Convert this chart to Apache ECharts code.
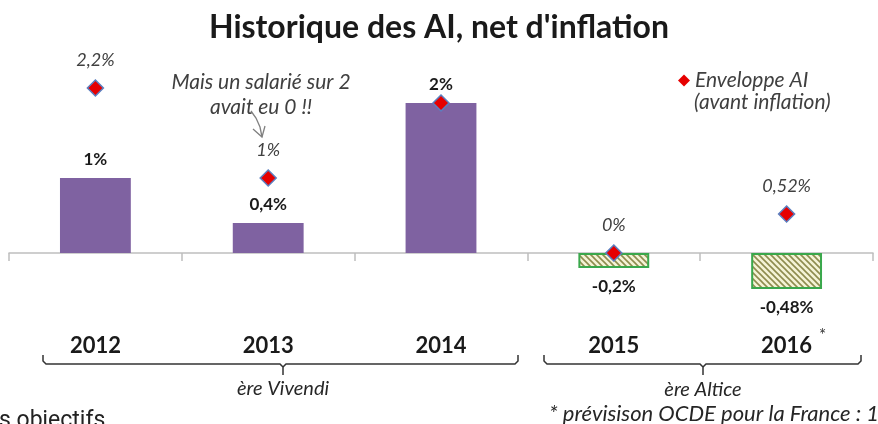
<!DOCTYPE html>
<html>
<head>
<meta charset="utf-8">
<script src="https://cdn.jsdelivr.net/npm/echarts@6/dist/echarts.min.js"></script>
<style>
  html, body { margin: 0; padding: 0; background: #fff; }
  #main { width: 878px; height: 424px; }
</style>
</head>
<body>
<div id="main"></div>
<script>
// données
const years = ['2012', '2013', '2014', '2015', '2016'];
const aiNet = [1, 0.4, 2, -0.2, -0.48];           // AI net d'inflation
const enveloppe = [2.2, 1, 2, 0, 0.52];           // Enveloppe AI (avant inflation)
const hideEnvLabel = [false, false, true, false, false];

const fontFam = 'Lato, "Open Sans", sans-serif';
const fmt = v => String(v).replace('.', ',') + '%';

// motif hachuré pour les années négatives
const makeHatch = () => {
    const c = document.createElement('canvas');
    c.width = 6;
    c.height = 6;
    const ctx = c.getContext('2d');
    ctx.fillStyle = '#f4f3d6';
    ctx.fillRect(0, 0, 6, 6);
    ctx.strokeStyle = '#8e8c4e';
    ctx.lineWidth = 1.6;
    ctx.beginPath();
    ctx.moveTo(-1, -1); ctx.lineTo(7, 7);
    ctx.moveTo(-1, 5); ctx.lineTo(1, 7);
    ctx.moveTo(5, -1); ctx.lineTo(7, 1);
    ctx.stroke();
    return c;
};
const hatch = makeHatch();

const chart = echarts.init(document.getElementById('main'));

const barData = aiNet.map(v => {
    if (v >= 0) {
        return { value: v, label: { position: 'top' } };
    }
    return {
        value: v,
        itemStyle: {
            color: { image: hatch, repeat: 'repeat' },
            borderColor: '#3aa84c',
            borderWidth: 2
        },
        label: { position: 'bottom' }
    };
});

const envData = enveloppe.map((v, i) => ({
    value: v,
    label: { show: !hideEnvLabel[i] }
}));

const brace = (x1, x2, xm) => [
    {
        type: 'polyline',
        shape: { points: [[x1, 355], [x1, 361], [x1 + 3, 364], [xm - 3, 364], [xm, 367], [xm, 375]] },
        style: { stroke: '#333', lineWidth: 1.5, fill: null }
    },
    {
        type: 'polyline',
        shape: { points: [[xm, 367], [xm + 3, 364], [x2 - 3, 364], [x2, 361], [x2, 355]] },
        style: { stroke: '#333', lineWidth: 1.5, fill: null }
    }
];

const noteText = (text, x, y, size, align) => ({
    type: 'text',
    x: x,
    y: y,
    style: {
        text: text,
        align: align,
        verticalAlign: 'middle',
        fontFamily: fontFam,
        fontStyle: 'italic',
        fontSize: size,
        fill: '#262626'
    }
});

const options = {
    animation: false,
    title: {
        text: 'Historique des AI, net d\'inflation',
        left: 'center',
        top: 7,
        textStyle: {
            fontFamily: fontFam,
            fontWeight: 'bold',
            fontSize: 32,
            color: '#1a1a1a'
        }
    },
    legend: {
        data: ['Enveloppe AI'],
        left: 673,
        top: 65,
        icon: 'diamond',
        itemWidth: 12,
        itemHeight: 12,
        itemStyle: { borderWidth: 0, color: '#e60000' },
        textStyle: {
            fontFamily: fontFam,
            fontStyle: 'italic',
            fontSize: 21,
            color: '#404040'
        }
    },
    grid: {
        left: 9,
        right: 5,
        top: 73,
        bottom: 111
    },
    xAxis: {
        type: 'category',
        data: years,
        axisLine: { onZero: true, lineStyle: { color: '#bfbfbf', width: 1.5 } },
        axisTick: { show: true, length: 8, lineStyle: { color: '#bfbfbf', width: 1.5 } },
        axisLabel: {
            margin: 22,
            fontFamily: fontFam,
            fontWeight: 'bold',
            fontSize: 22,
            color: '#1a1a1a'
        }
    },
    yAxis: {
        type: 'value',
        min: -0.8,
        max: 2.4,
        show: false,
        splitLine: { show: false }
    },
    series: [
        {
            name: 'AI net',
            type: 'bar',
            barWidth: '41%',
            data: barData,
            itemStyle: { color: '#7f62a1' },
            label: {
                show: true,
                distance: 10,
                formatter: p => fmt(p.value),
                fontFamily: fontFam,
                fontWeight: 'bold',
                fontSize: 17,
                color: '#1a1a1a'
            },
            z: 2
        },
        {
            name: 'Enveloppe AI',
            type: 'scatter',
            symbol: 'diamond',
            symbolSize: 16,
            data: envData,
            itemStyle: {
                color: '#e60000',
                borderColor: '#5b7fc0',
                borderWidth: 1.5,
                opacity: 1
            },
            label: {
                show: true,
                position: 'top',
                distance: 10,
                formatter: p => fmt(p.value),
                fontFamily: fontFam,
                fontStyle: 'italic',
                fontSize: 18,
                color: '#404040'
            },
            z: 5
        }
    ],
    graphic: [
        {
            type: 'text',
            x: 694,
            y: 102,
            style: {
                text: '(avant inflation)',
                verticalAlign: 'middle',
                fontFamily: fontFam,
                fontStyle: 'italic',
                fontSize: 21,
                fill: '#404040'
            }
        },
        {
            type: 'text',
            x: 261,
            y: 95,
            style: {
                text: 'Mais un salarié sur 2\navait eu 0 !!',
                align: 'center',
                verticalAlign: 'middle',
                lineHeight: 25,
                fontFamily: fontFam,
                fontStyle: 'italic',
                fontSize: 21,
                fill: '#404040'
            }
        },
        {
            type: 'polyline',
            shape: { points: [[251, 111], [256, 118], [260, 127], [262, 137]] },
            style: { stroke: '#808080', lineWidth: 1.3, fill: null }
        },
        {
            type: 'polyline',
            shape: { points: [[253, 129], [262, 137], [265, 126]] },
            style: { stroke: '#808080', lineWidth: 1.3, fill: null }
        },
        {
            type: 'text',
            x: 819,
            y: 327,
            style: {
                text: '*',
                fontFamily: fontFam,
                fontSize: 17,
                fill: '#333'
            }
        },
        ...brace(43, 518, 283),
        ...brace(544, 861, 703),
        noteText('ère Vivendi', 283, 389, 20, 'center'),
        noteText('ère Altice', 703, 390, 20, 'center'),
        noteText('* prévisison OCDE pour la France : 1%', 549, 414, 22, 'left'),
        {
            type: 'text',
            x: -1,
            y: 410,
            style: {
                text: 's objectifs',
                verticalAlign: 'top',
                fontFamily: 'Roboto, sans-serif',
                fontSize: 23,
                fill: '#222'
            }
        }
    ]
};

chart.setOption(options);
window.onresize = () => {
    chart.resize();
};
</script>
</body>
</html>
